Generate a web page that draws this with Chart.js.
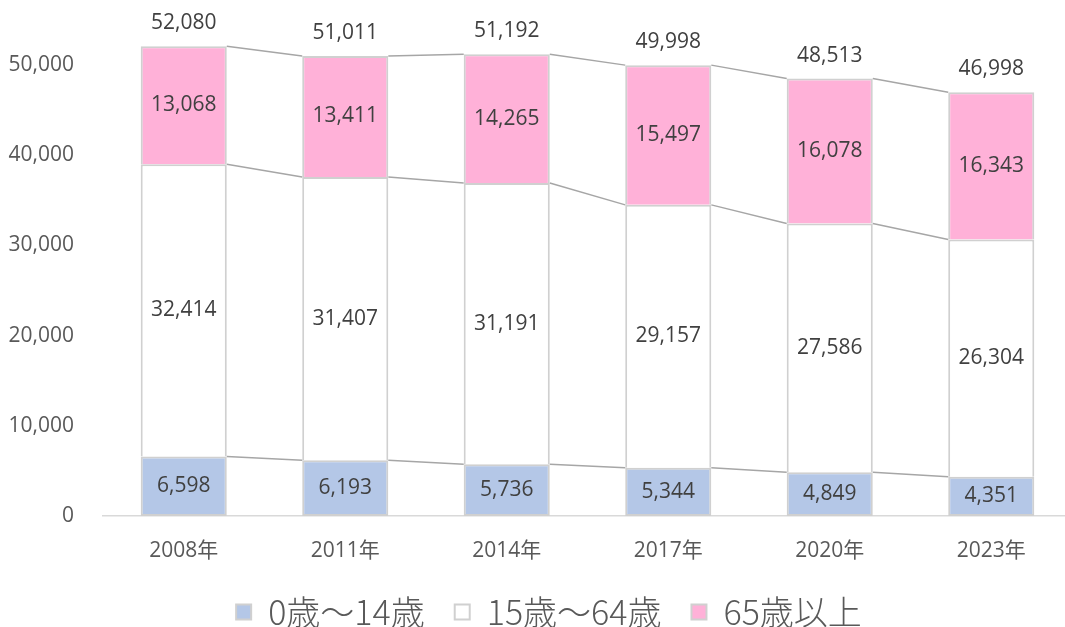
<!DOCTYPE html>
<html>
<head>
<meta charset="utf-8">
<script src="https://cdn.jsdelivr.net/npm/chart.js@4/dist/chart.umd.min.js"></script>
<style>
  html, body { margin:0; padding:0; background:#fff; overflow:hidden; }
  #wrap { width:1072px; height:639px; position:relative; }
</style>
</head>
<body>
<div id="wrap"><canvas id="popChart"></canvas></div>
<script>
// カテゴリと値
var YEARS    = ["2008年", "2011年", "2014年", "2017年", "2020年", "2023年"];
var AGE_0_14  = [6598, 6193, 5736, 5344, 4849, 4351];
var AGE_15_64 = [32414, 31407, 31191, 29157, 27586, 26304];
var AGE_65UP  = [13068, 13411, 14265, 15497, 16078, 16343];
var TOTALS    = [52080, 51011, 51192, 49998, 48513, 46998];
var Y_TICKS   = [0, 10000, 20000, 30000, 40000, 50000];

var NUM_FONT = "'Open Sans', 'Noto Sans CJK JP', sans-serif";
function fmt(v){ return Number(v).toLocaleString("en-US"); }

// Excel風の区分線（各系列の上端をつなぐ）
var seriesLines = {
  id: "seriesLines",
  afterDatasetsDraw: function(chart){
    var ctx = chart.ctx;
    ctx.save();
    ctx.strokeStyle = "#a6a6a6";
    ctx.lineWidth = 1.5;
    for (var d=0; d<chart.data.datasets.length; d++){
      var meta = chart.getDatasetMeta(d);
      for (var i=0; i<meta.data.length-1; i++){
        var a = meta.data[i], b = meta.data[i+1];
        ctx.beginPath();
        ctx.moveTo(a.x + a.width/2, a.y);
        ctx.lineTo(b.x - b.width/2, b.y);
        ctx.stroke();
      }
    }
    ctx.restore();
  }
};

// 値ラベル + 合計
var valueLabels = {
  id: "valueLabels",
  afterDatasetsDraw: function(chart){
    var ctx = chart.ctx;
    ctx.save();
    ctx.fillStyle = "#404040";
    ctx.font = "21px " + NUM_FONT;
    ctx.textAlign = "center";
    ctx.textBaseline = "middle";
    var last = null;
    for (var d=0; d<chart.data.datasets.length; d++){
      var meta = chart.getDatasetMeta(d);
      var vals = chart.data.datasets[d].data;
      for (var i=0; i<meta.data.length; i++){
        var el = meta.data[i];
        ctx.fillText(fmt(vals[i]), el.x, (el.y + el.base)/2);
      }
      last = meta;
    }
    for (var j=0; j<last.data.length; j++){
      var top = last.data[j];
      ctx.fillText(fmt(TOTALS[j]), top.x, top.y - 23);
    }
    ctx.restore();
  }
};

// 凡例を少し右へ
var legendShift = {
  id: "legendShift",
  afterLayout: function(chart){
    if (chart.legend){ chart.legend.left += 13; chart.legend.right += 13; }
  }
};

var ctx = document.getElementById("popChart").getContext("2d");
new Chart(ctx, {
  type: "bar",
  data: {
    labels: YEARS,
    datasets: [
      { label:"0歳～14歳",  data:AGE_0_14,  backgroundColor:"#b4c7e7", borderColor:"#d0d0d0", borderWidth:2, borderSkipped:false },
      { label:"15歳～64歳", data:AGE_15_64, backgroundColor:"#ffffff", borderColor:"#d0d0d0", borderWidth:2 },
      { label:"65歳以上",   data:AGE_65UP,  backgroundColor:"#ffb1d8", borderColor:"#d0d0d0", borderWidth:2 }
    ]
  },
  options: {
    responsive: true,
    maintainAspectRatio: false,
    animation: false,
    layout: { padding: { top: 11, left: 0, right: 0, bottom: 0 } },
    datasets: { bar: { barPercentage: 1, categoryPercentage: 0.533 } },
    plugins: {
      tooltip: { enabled: false },
      legend: {
        position: "bottom",
        labels: {
          color: "#595959",
          font: { family: "'Noto Sans CJK JP', sans-serif", size: 34, weight: "300" },
          boxWidth: 15, boxHeight: 15, padding: 30
        }
      }
    },
    scales: {
      x: {
        stacked: true,
        grid: { display: false, drawTicks: false },
        border: { display: true, color: "#d9d9d9", width: 1.5 },
        afterFit: function(scale){ scale.height = 49; },
        ticks: { color: "#595959", font: { family: NUM_FONT, size: 21 }, padding: 22 }
      },
      y: {
        stacked: true,
        min: 0, max: 56000,
        grid: { display: false, drawTicks: false },
        border: { display: false },
        afterBuildTicks: function(scale){
          scale.ticks = Y_TICKS.map(function(v){ return { value: v }; });
        },
        afterFit: function(scale){
          scale.width = 103;
          scale.paddingTop = 0;
          scale.paddingBottom = 0;
        },
        ticks: {
          color: "#595959", font: { family: NUM_FONT, size: 21 }, padding: 29,
          callback: function(v){ return fmt(v); }
        }
      }
    }
  },
  plugins: [seriesLines, valueLabels, legendShift]
});
</script>
</body>
</html>
